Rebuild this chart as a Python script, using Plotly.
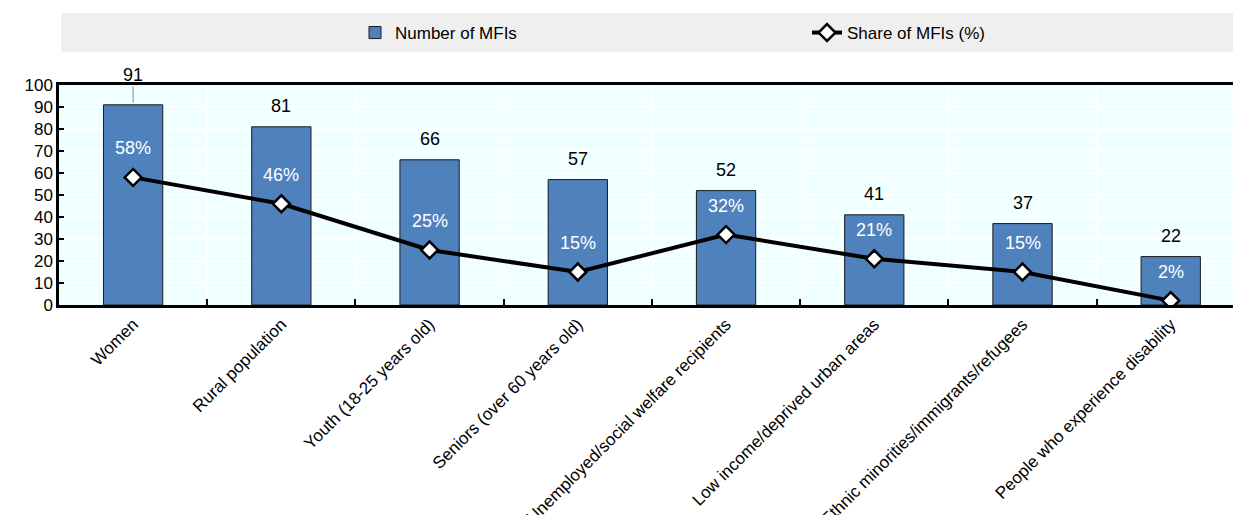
import plotly.graph_objects as go

categories = ["Women", "Rural population", "Youth (18-25 years old)", "Seniors (over 60 years old)",
              "Unemployed/social welfare recipients", "Low income/deprived urban areas",
              "Ethnic minorities/immigrants/refugees", "People who experience disability"]
num_mfis = [91, 81, 66, 57, 52, 41, 37, 22]
share_mfis = [58, 46, 25, 15, 32, 21, 15, 2]
y_ticks = [0, 10, 20, 30, 40, 50, 60, 70, 80, 90, 100]

FONT = "Liberation Sans Narrow, Arial Narrow, Liberation Sans, Arial, sans-serif"
FS = 17
W, H = 1233, 515
ML, MR, MT, MB = 59, 0, 85, 210

fig = go.Figure()
fig.add_trace(go.Bar(
    x=categories, y=num_mfis, name="Number of MFIs",
    marker=dict(color="#4F81BD", line=dict(color="#1a1a1a", width=1)),
    width=0.4,
))
fig.add_trace(go.Scatter(
    x=categories, y=share_mfis, name="Share of MFIs (%)", mode="lines+markers",
    line=dict(color="black", width=4),
    marker=dict(symbol="diamond", size=13, color="white", line=dict(color="black", width=2.5)),
))

ymax = y_ticks[-1]
annotations = []
for c, v in zip(categories, num_mfis):
    if v > ymax - 12:
        annotations.append(dict(x=c, y=v, text=str(v), showarrow=True, ax=0, ay=-30,
                                arrowhead=0, arrowwidth=1.5, arrowcolor="#b0b0b0", standoff=2,
                                font=dict(size=FS + 1, color="black", family=FONT)))
    else:
        annotations.append(dict(x=c, y=v, text=str(v), showarrow=False, yshift=21,
                                font=dict(size=FS + 1, color="black", family=FONT)))
for c, s in zip(categories, share_mfis):
    annotations.append(dict(x=c, y=s, text=f"{s}%", showarrow=False, yshift=29,
                            font=dict(size=FS + 1, color="white", family=FONT)))

plot_h = H - MT - MB
plot_w = W - ML - MR
fig.update_layout(
    width=W, height=H,
    margin=dict(l=ML, r=MR, t=MT, b=MB, pad=0, autoexpand=False),
    paper_bgcolor="white", plot_bgcolor="#F0FFFF",
    font=dict(family=FONT, size=FS, color="black"),
    showlegend=True,
    legend=dict(orientation="h", x=(355 - ML) / plot_w, xanchor="left",
                y=(H - MB - 33) / plot_h, yanchor="middle",
                entrywidth=407, bgcolor="rgba(0,0,0,0)",
                font=dict(size=FS, family=FONT), traceorder="normal"),
    annotations=annotations,
    shapes=[dict(type="rect", xref="paper", yref="paper",
                 x0=(61 - ML) / plot_w, x1=1.0,
                 y0=(H - MB - 52) / plot_h, y1=(H - MB - 13) / plot_h,
                 fillcolor="#EFEFEF", line=dict(width=0), layer="below")],
    xaxis=dict(
        range=[-0.5, len(categories) - 0.58], automargin=False,
        tickson="boundaries", ticks="inside", ticklen=6, tickcolor="black", tickwidth=1.5,
        showgrid=True, gridcolor="white", gridwidth=1.5,
        showline=True, linecolor="black", linewidth=2.5, mirror=True,
        tickangle=-45, tickfont=dict(size=FS, family=FONT),
    ),
    yaxis=dict(
        range=[0, ymax], tickvals=y_ticks, automargin=False,
        ticks="inside", ticklen=5, tickcolor="black", tickwidth=1.5,
        showgrid=True, gridcolor="white", gridwidth=1.5,
        showline=True, linecolor="black", linewidth=2.5,
        zeroline=False, tickfont=dict(size=FS, family=FONT),
    ),
)
fig.write_html("out.html")
